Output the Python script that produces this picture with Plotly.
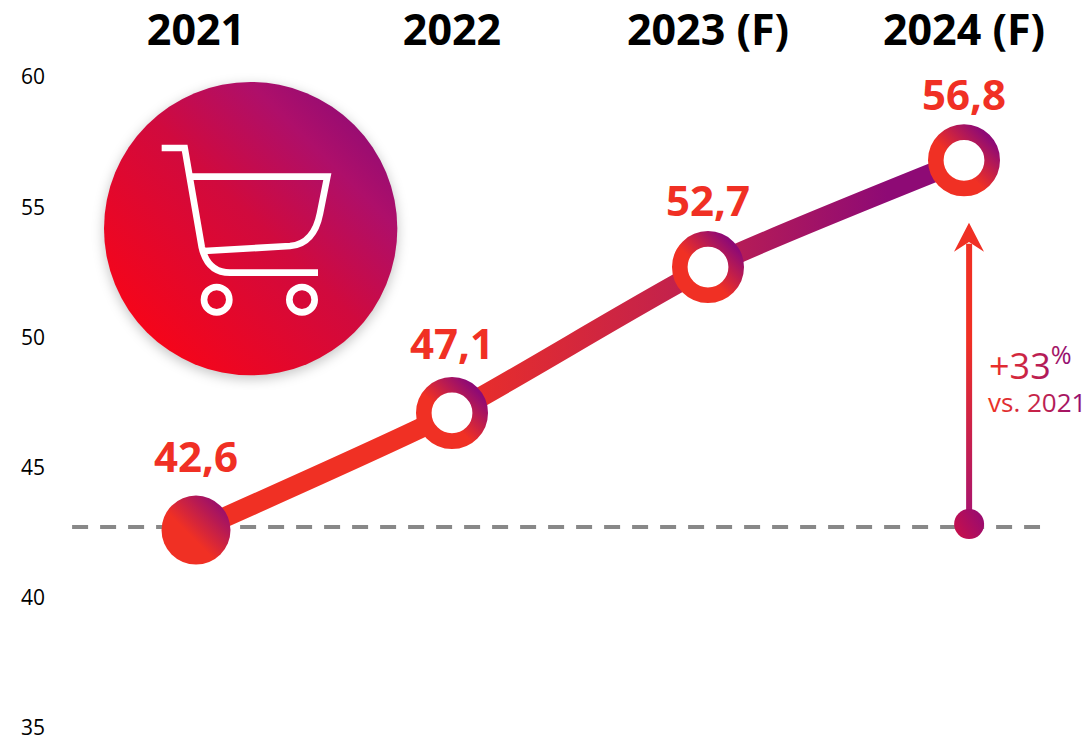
import base64
import plotly.graph_objects as go

# ---- data -------------------------------------------------------------
categories = ["2021", "2022", "2023 (F)", "2024 (F)"]
cat_pos = [0, 1, 2, 3]
values = [42.6, 47.1, 52.7, 56.8]
y_ticks = [35, 40, 45, 50, 55, 60]
baseline_value = 42.72
baseline_x = [-0.484, 3.297]
arrow_x = 3.02
arrow_y = [42.83, 53.6]
change_main = "+33<sup>%</sup>"
change_sub = "vs. 2021"

RED = "#F03024"
PURPLE = "#8E0A75"
FONT = "Open Sans"
W, H = 1089, 737
ML, MT = 50, 55


def dx(px):
    return (px - 196) / 256.0


def dy(py):
    return 60 - (py - 77) / 26.04


X_RANGE = [dx(ML), dx(W)]
Y_RANGE = [dy(H), dy(MT)]

fig = go.Figure()

# 0 dashed reference line
fig.add_trace(go.Scatter(x=baseline_x, y=[baseline_value] * 2, mode="lines",
                         line=dict(color="#888888", width=4, dash="16px,12px"),
                         showlegend=False, hoverinfo="skip"))
# 1 arrow shaft
fig.add_trace(go.Scatter(x=[arrow_x, arrow_x], y=arrow_y, mode="lines",
                         line=dict(color=RED, width=6),
                         showlegend=False, hoverinfo="skip"))
# 2 arrow foot dot
fig.add_trace(go.Scatter(x=[arrow_x], y=arrow_y[:1], mode="markers",
                         marker=dict(size=30, color="#C0104F", opacity=1, line=dict(width=0)),
                         showlegend=False, hoverinfo="skip"))
# 3 main line
fig.add_trace(go.Scatter(x=cat_pos, y=values, mode="lines",
                         line=dict(color=RED, width=20, shape="spline", smoothing=0.55),
                         showlegend=False, hoverinfo="skip"))
# 4 markers
fig.add_trace(go.Scatter(x=cat_pos, y=values, mode="markers", cliponaxis=False,
                         marker=dict(size=[69, 56.4, 56.4, 56.4], opacity=1,
                                     color=[RED, "white", "white", "white"],
                                     line=dict(width=[0, 15.6, 15.6, 15.6], color=RED)),
                         showlegend=False, hoverinfo="skip"))

# value labels
label_shift = [75, 70, 68, 67]
for xv, v, s in zip(cat_pos, values, label_shift):
    fig.add_annotation(x=xv, y=v, yshift=s, text=f"{v:.1f}".replace(".", ","),
                       showarrow=False, xanchor="center", yanchor="middle",
                       font=dict(family=FONT, size=42, color=RED, weight="bold"))

# +33 % note
fig.add_annotation(x=dx(988), y=dy(363), text=change_main, showarrow=False,
                   xanchor="left", yanchor="middle", borderpad=0,
                   font=dict(family=FONT, size=36, color="#C0204F"))
fig.add_annotation(x=dx(987), y=dy(402), text=change_sub, showarrow=False,
                   xanchor="left", yanchor="middle", borderpad=0,
                   font=dict(family=FONT, size=26, color="#C0204F"))

# arrow head
head = [(969, 222.7), (954, 251.7), (969, 242), (984, 251.7)]
fig.add_shape(type="path", xref="x", yref="y", layer="above",
              path="M" + " L".join(f"{dx(a):.4f},{dy(b):.4f}" for a, b in head) + " Z",
              fillcolor=RED, line=dict(width=0))

# basket icon badge (decoration)
svg = """<svg xmlns='http://www.w3.org/2000/svg' width='960' height='960' viewBox='0 0 960 960'>
<defs>
<linearGradient id='b' gradientUnits='userSpaceOnUse' x1='170' y1='790' x2='830' y2='120'>
<stop offset='0' stop-color='#F5051A'/><stop offset='0.5' stop-color='#D00A3E'/>
<stop offset='0.8' stop-color='#AE0F6A'/><stop offset='1' stop-color='#900B75'/></linearGradient>
<filter id='s' x='-20%' y='-20%' width='140%' height='140%'><feGaussianBlur stdDeviation='18'/></filter>
</defs>
<circle cx='482' cy='486' r='442' fill='#000' fill-opacity='0.22' filter='url(#s)'/>
<circle cx='482' cy='476' r='440' fill='url(#b)'/>
<g fill='none' stroke='#fff' stroke-width='20'>
<path d='M215 234 H284 L335 530 Q352 608 420 608 H684'/>
<path d='M302 320 H712 L690 430 Q672 522 600 528 L342 543'/>
<circle cx='380' cy='689' r='38'/><circle cx='636' cy='689' r='38'/>
</g></svg>"""
fig.add_layout_image(source="data:image/svg+xml;base64," + base64.b64encode(svg.encode()).decode(),
                     xref="x", yref="y", x=dx(90), y=dy(70),
                     sizex=320 / 256.0, sizey=320 / 26.04, xanchor="left", yanchor="top",
                     sizing="stretch", layer="below")

fig.update_layout(
    width=W, height=H, margin=dict(l=ML, r=0, t=MT, b=0, pad=0),
    paper_bgcolor="white", plot_bgcolor="white", showlegend=False,
    xaxis=dict(range=X_RANGE, side="top", tickmode="array", tickvals=cat_pos,
               ticktext=categories, ticks="", showgrid=False, zeroline=False,
               automargin=False, showline=False, ticklabelstandoff=0,
               ticklabeloverflow="allow",
               tickfont=dict(family=FONT, size=43, color="black", weight="bold")),
    yaxis=dict(range=Y_RANGE, tickmode="array", tickvals=y_ticks, ticks="",
               showgrid=False, zeroline=False, showline=False, automargin=False,
               ticklabelstandoff=4, ticklabeloverflow="allow",
               tickfont=dict(family=FONT, size=21, color="black")),
)

post = """
(function(){
  document.documentElement.style.margin='0';
  document.body.style.margin='0';
  document.body.style.overflow='hidden';
  var gd = document.getElementById('{plot_id}');
  var svg = gd.querySelector('svg.main-svg');
  var NS = 'http://www.w3.org/2000/svg';
  var defs = document.createElementNS(NS,'defs');
  svg.insertBefore(defs, svg.firstChild);
  function grad(id, attrs, stops){
    var g = document.createElementNS(NS,'linearGradient');
    g.setAttribute('id', id);
    for (var k in attrs) g.setAttribute(k, attrs[k]);
    stops.forEach(function(s){
      var st = document.createElementNS(NS,'stop');
      st.setAttribute('offset', s[0]); st.setAttribute('stop-color', s[1]);
      g.appendChild(st);
    });
    defs.appendChild(g);
  }
  var R='#F03024', P='#8E0A75';
  grad('gLine', {x1:0,y1:0,x2:1,y2:0}, [[0.30,R],[0.66,'#BE2050'],[0.90,P]]);
  grad('gMark', {x1:0,y1:1,x2:1,y2:0}, [[0.42,R],[0.92,P]]);
  grad('gShaft', {gradientUnits:'userSpaceOnUse',x1:0,y1:285,x2:0,y2:460}, [[0,R],[1,'#A8146E']]);
  grad('gDot', {x1:0,y1:0.8,x2:1,y2:0.2}, [[0,'#C8104A'],[1,'#960B72']]);
  grad('gText', {x1:0,y1:0,x2:1,y2:0}, [[0,R],[0.55,'#C0204F'],[1,P]]);
  var tr = gd.querySelectorAll('.scatterlayer .trace');
  tr[1].querySelector('.js-line').style.stroke = 'url(#gShaft)';
  tr[2].querySelector('.points path').style.fill = 'url(#gDot)';
  tr[3].querySelector('.js-line').style.stroke = 'url(#gLine)';
  var pts = tr[4].querySelectorAll('.points path');
  pts.forEach(function(p,i){
    if(i===0){ p.style.fill='url(#gMark)'; }
    else { p.style.stroke='url(#gMark)'; }
  });
  gd.querySelectorAll('.annotation-text').forEach(function(t){
    var s = t.textContent;
    if(s.indexOf('33')>=0 || s.indexOf('vs.')>=0){
      t.style.fill='url(#gText)';
      t.querySelectorAll('tspan').forEach(function(x){ x.style.fill='url(#gText)'; });
    }
  });
})();
"""
fig.write_html("out.html", post_script=post, config={"displayModeBar": False})
